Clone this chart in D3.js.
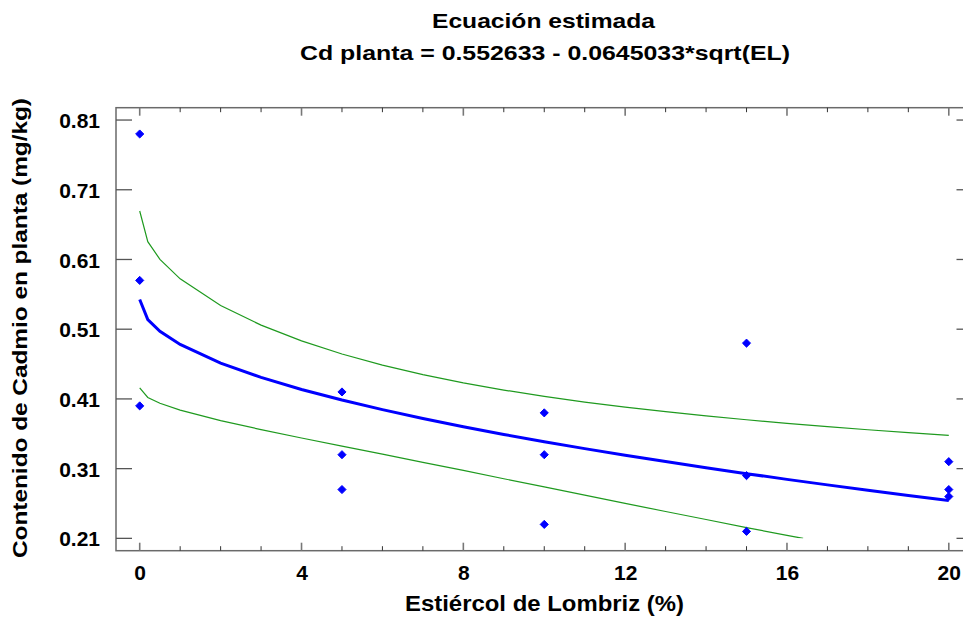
<!DOCTYPE html>
<html><head><meta charset="utf-8">
<script src="https://cdn.jsdelivr.net/npm/d3@7"></script>
<style>body{margin:0;background:#fff}svg{display:block}text{font-family:"Liberation Sans",Arial,sans-serif;font-weight:bold;fill:#000}</style>
</head><body><svg id="c" width="963" height="619"></svg>
<script>
// Observed data
const ptX = [0,0,0,5,5,5,10,10,10,15,15,15,20,20,20];
const ptY = [0.79,0.58,0.40,0.42,0.33,0.28,0.39,0.33,0.23,0.49,0.30,0.22,0.32,0.28,0.27];
// Fitted curve and confidence bands
const fitX   = [0,0.2,0.5,1,2,3,4,5,6,7,8,9,10,11,12,13,14,15,16,17,18,19,20];
const fitY   = [0.5526,0.5238,0.5070,0.4881,0.4614,0.4409,0.4236,0.4084,0.3946,0.3820,0.3702,0.3591,0.3487,0.3387,0.3292,0.3201,0.3113,0.3028,0.2946,0.2867,0.2790,0.2715,0.2642];
const upperY = [0.6795,0.6355,0.6102,0.5822,0.5439,0.5158,0.4932,0.4744,0.4585,0.4449,0.4330,0.4227,0.4136,0.4055,0.3982,0.3917,0.3856,0.3801,0.3750,0.3703,0.3658,0.3616,0.3576];
const lowerX = [0,0.2,0.5,1,2,3,4,5,6,7,8,9,10,11,12,13,14,15,16,16.4];
const lowerY = [0.4257,0.4121,0.4038,0.3940,0.3789,0.3660,0.3540,0.3424,0.3307,0.3191,0.3074,0.2955,0.2838,0.2719,0.2602,0.2485,0.2370,0.2255,0.2142,0.2100];
const xTicks = [0,4,8,12,16,20];
const xMinor = d3.range(0,21,1);
const yTicks = [0.21,0.31,0.41,0.51,0.61,0.71,0.81];
const titleLines = ["Ecuación estimada","Cd planta = 0.552633 - 0.0645033*sqrt(EL)"];
const xLabel = "Estiércol de Lombriz (%)";
const yLabel = "Contenido de Cadmio en planta (mg/kg)";

const svg = d3.select("#c");
const L=116, R=972.5, T=107.7, B=550.7;
const x = d3.scaleLinear().domain([-0.586,20.586]).range([L,R]);
const y = d3.scaleLinear().domain([0.1923,0.8277]).range([B,T]);
const frame = "#6a6a6a";

svg.append("defs").append("clipPath").attr("id","clip")
  .append("rect").attr("x",L).attr("y",y(0.81)).attr("width",R-L).attr("height",y(0.21)-y(0.81));

// axes frame
svg.append("rect").attr("x",L).attr("y",T).attr("width",R-L).attr("height",B-T)
  .attr("fill","none").attr("stroke",frame).attr("stroke-width",1.5);

// x ticks (bottom & top, inward)
xMinor.forEach(v=>{
  const major = xTicks.includes(v);
  const len = major?8:4.5;
  const w = major?1.6:1;
  const c = major?"#777":"#333";
  svg.append("line").attr("x1",x(v)).attr("x2",x(v)).attr("y1",B).attr("y2",B-len).attr("stroke",c).attr("stroke-width",w);
  svg.append("line").attr("x1",x(v)).attr("x2",x(v)).attr("y1",T).attr("y2",T+len).attr("stroke",c).attr("stroke-width",w);
});
const gx = svg.append("g").attr("transform",`translate(0,${B})`)
  .call(d3.axisBottom(x).tickValues(xTicks).tickSize(0).tickPadding(23).tickFormat(d3.format("d")));
gx.select(".domain").remove();
gx.selectAll("text").attr("font-size",21).attr("font-family","Liberation Sans, Arial, sans-serif").attr("font-weight","bold").attr("fill","#000").attr("dy","0.32em");

// y ticks
yTicks.forEach(v=>{
  svg.append("line").attr("x1",L).attr("x2",L+16).attr("y1",y(v)).attr("y2",y(v)).attr("stroke","#555").attr("stroke-width",1.3);
  svg.append("line").attr("x1",R).attr("x2",R-16).attr("y1",y(v)).attr("y2",y(v)).attr("stroke","#555").attr("stroke-width",1.3);
});
const gy = svg.append("g").attr("transform",`translate(${L},0)`)
  .call(d3.axisLeft(y).tickValues(yTicks).tickSize(0).tickPadding(16).tickFormat(d3.format(".2f")));
gy.select(".domain").remove();
gy.selectAll("text").attr("font-size",21).attr("font-family","Liberation Sans, Arial, sans-serif").attr("font-weight","bold").attr("fill","#000").attr("dy","0.36em");

// lines
const plot = svg.append("g").attr("clip-path","url(#clip)");
const line = d3.line().x(d=>x(d[0])).y(d=>y(d[1]));
const green = "#1f9a1f";
plot.append("path").attr("d",line(d3.zip(fitX,upperY))).attr("fill","none").attr("stroke",green).attr("stroke-width",1.2);
plot.append("path").attr("d",line(d3.zip(lowerX,lowerY))).attr("fill","none").attr("stroke",green).attr("stroke-width",1.2);
plot.append("path").attr("d",line(d3.zip(fitX,fitY))).attr("fill","none").attr("stroke","#0000ff").attr("stroke-width",3);

// points
const diamond = d3.symbol().type(d3.symbolDiamond2).size(42);
svg.append("g").selectAll("path").data(d3.zip(ptX,ptY)).join("path")
  .attr("d",diamond).attr("transform",d=>`translate(${x(d[0])},${y(d[1])})`)
  .attr("fill","#0000ff").attr("stroke","#0000ff").attr("stroke-width",1).attr("stroke-linejoin","round");

// titles
svg.append("text").attr("x",543.5).attr("y",27.7).attr("text-anchor","middle").attr("font-size",21)
  .attr("textLength",223).attr("lengthAdjust","spacingAndGlyphs").text(titleLines[0]);
svg.append("text").attr("x",545).attr("y",60).attr("text-anchor","middle").attr("font-size",21)
  .attr("textLength",490).attr("lengthAdjust","spacingAndGlyphs").text(titleLines[1]);
svg.append("text").attr("x",544.5).attr("y",611).attr("text-anchor","middle").attr("font-size",22.5)
  .attr("textLength",279).attr("lengthAdjust","spacingAndGlyphs").text(xLabel);
svg.append("text").attr("transform",`translate(27,328) rotate(-90)`).attr("text-anchor","middle").attr("font-size",20)
  .attr("textLength",460).attr("lengthAdjust","spacingAndGlyphs").text(yLabel);
</script></body></html>
